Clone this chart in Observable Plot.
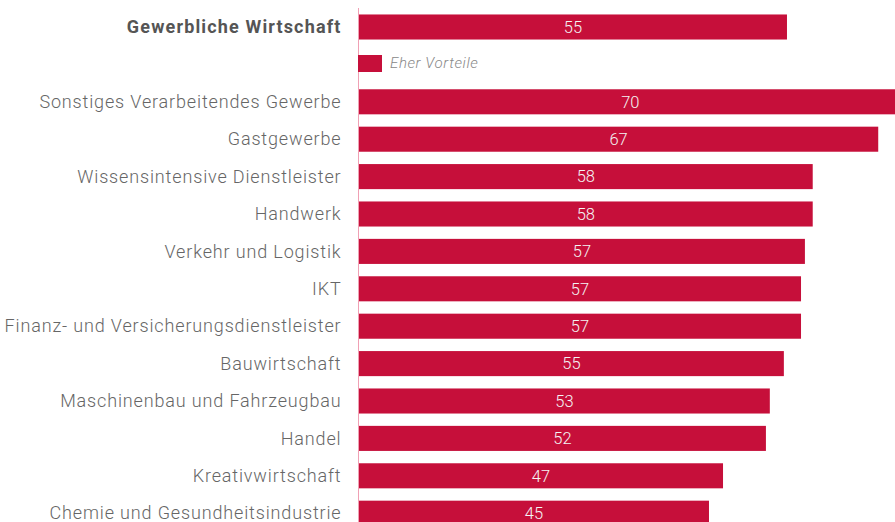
<!DOCTYPE html>
<html>
<head>
<meta charset="utf-8">
<script src="https://cdn.jsdelivr.net/npm/d3@7"></script>
<script src="https://cdn.jsdelivr.net/npm/@observablehq/plot@0.6"></script>
<style>
  html, body { margin: 0; padding: 0; background: #fff; overflow: hidden; }
  #wrap { position: relative; width: 895px; height: 522px; }
  #legend { position: absolute; left: 358px; top: 54px; display: flex; align-items: center;
            font-family: Roboto, "Liberation Sans", sans-serif; font-style: italic; font-weight: 300;
            font-size: 15px; letter-spacing: 0.6px; color: #888; }
  #legend .sw { width: 24px; height: 17px; background: #c60f3a; margin-right: 8px; }
  .lbl text { letter-spacing: 0.85px; }
  .tot text { letter-spacing: 1.15px; }
</style>
</head>
<body>
<div id="wrap"></div>
<script>
const categories = [
  "Gewerbliche Wirtschaft",
  "Sonstiges Verarbeitendes Gewerbe",
  "Gastgewerbe",
  "Wissensintensive Dienstleister",
  "Handwerk",
  "Verkehr und Logistik",
  "IKT",
  "Finanz- und Versicherungsdienstleister",
  "Bauwirtschaft",
  "Maschinenbau und Fahrzeugbau",
  "Handel",
  "Kreativwirtschaft",
  "Chemie und Gesundheitsindustrie"
];
const values = [55.0, 69.7, 66.7, 58.3, 58.3, 57.3, 56.8, 56.8, 54.6, 52.8, 52.3, 46.8, 45.0];
const legendLabel = "Eher Vorteile";
const totalCategory = "Gewerbliche Wirtschaft";
const legendRow = "__legend";

const data = categories.map((c, i) => ({name: c, value: values[i]}));
const rows = [categories[0], legendRow, ...categories.slice(1)];

const red = "#c60f3a";
const font = "Roboto, 'Liberation Sans', sans-serif";

const chart = Plot.plot({
  width: 895,
  height: 522,
  marginLeft: 358,
  marginRight: 0,
  marginTop: 8,
  marginBottom: 0,
  style: {fontFamily: font, background: "#fff"},
  x: {domain: [0, 68.85], axis: null},
  y: {domain: rows, range: [8.3, 531.9], paddingInner: 0.33, paddingOuter: 0.165, round: false, axis: null},
  marks: [
    Plot.barX(data, {y: "name", x: "value", fill: red, clip: true}),
    Plot.ruleX([0], {stroke: "#f0a0b4", strokeWidth: 1}),
    Plot.text(data, {y: "name", x: d => d.value / 2, text: d => String(Math.round(d.value)),
      fill: "#f4f4f4", fontSize: 16.5, fontWeight: 300, textAnchor: "middle"}),
    Plot.text(data.filter(d => d.name !== totalCategory), {y: "name", x: 0, dx: -17, text: "name",
      textAnchor: "end", fill: "#666", fontSize: 18, fontWeight: 300, className: "lbl"}),
    Plot.text(data.filter(d => d.name === totalCategory), {y: "name", x: 0, dx: -17, text: "name",
      textAnchor: "end", fill: "#555", fontSize: 18, fontWeight: "bold", className: "tot"})
  ]
});

const wrap = document.getElementById("wrap");
wrap.appendChild(chart);
const lg = document.createElement("div");
lg.id = "legend";
lg.innerHTML = '<span class="sw"></span><span></span>';
lg.lastChild.textContent = legendLabel;
wrap.appendChild(lg);
</script>
</body>
</html>
